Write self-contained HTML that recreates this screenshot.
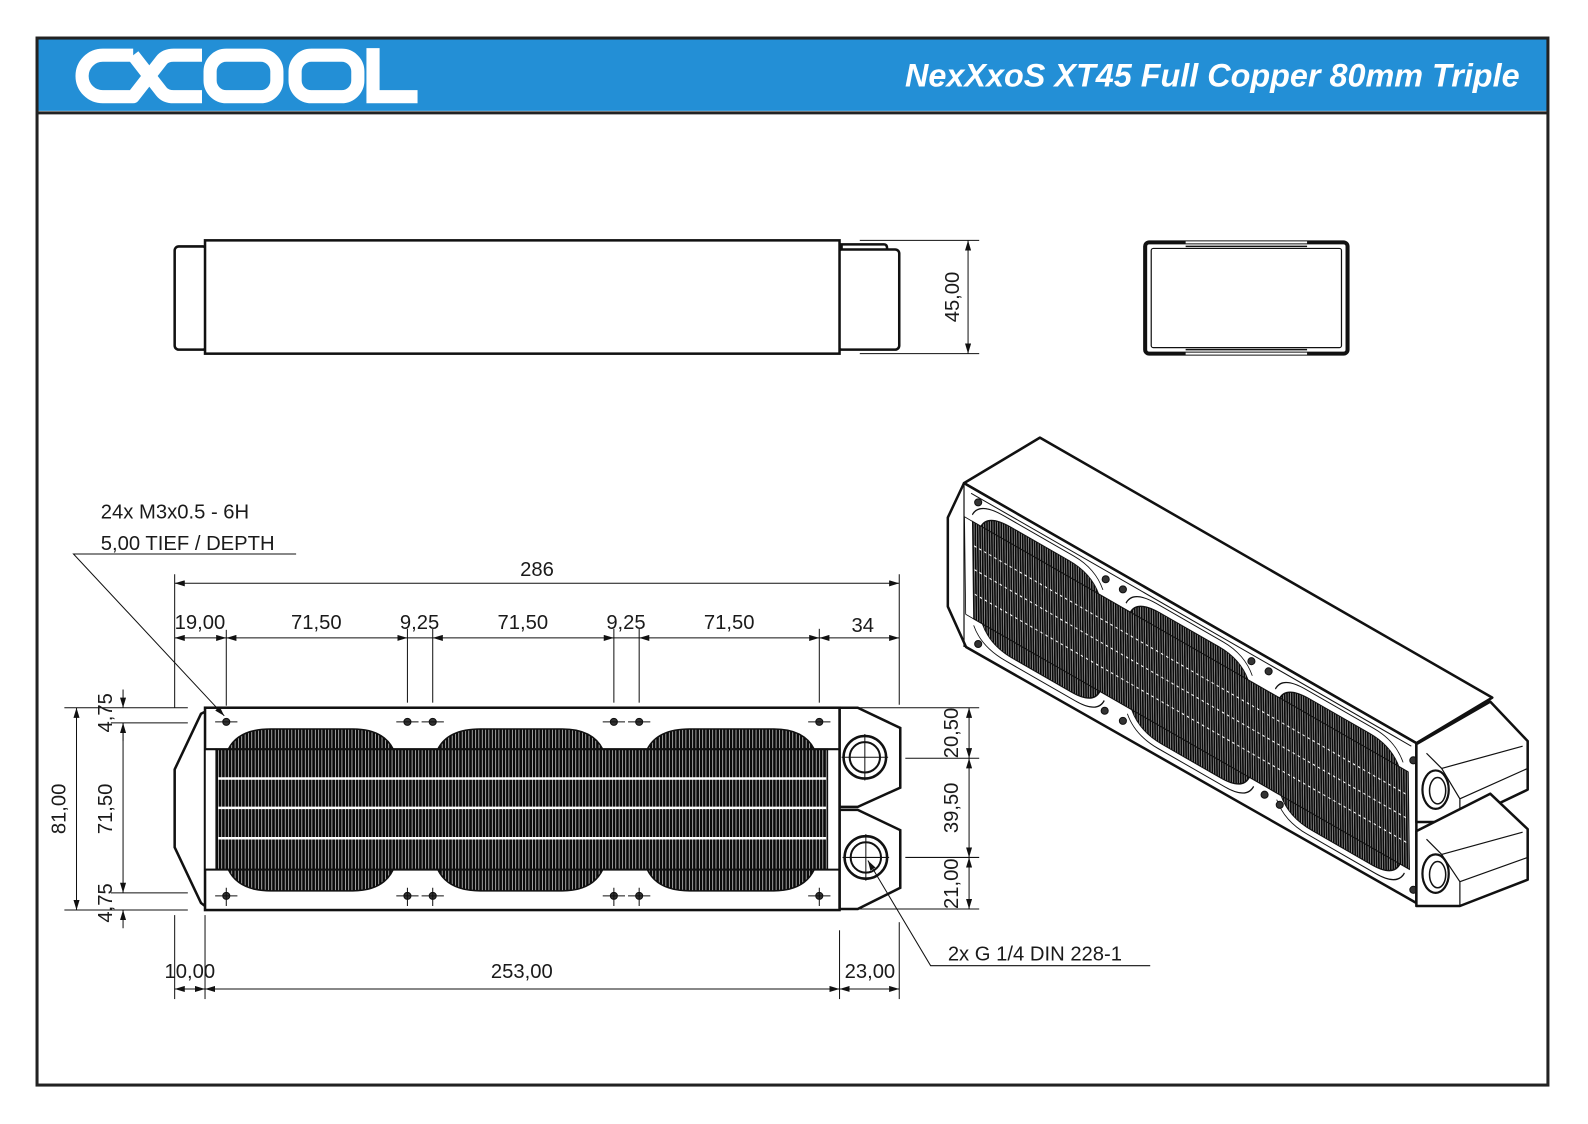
<!DOCTYPE html>
<html><head><meta charset="utf-8"><style>
html,body{margin:0;padding:0;background:#fff;}
svg{display:block;}
text{font-family:"Liberation Sans",sans-serif;fill:#1a1a1a;}
</style></head><body>
<svg width="1588" height="1124" viewBox="0.4 0.4 1569.2 1111.1" preserveAspectRatio="none" xmlns="http://www.w3.org/2000/svg">
<defs>
<pattern id="fin" width="3.3" height="10" patternUnits="userSpaceOnUse">
<rect width="3.3" height="10" fill="#0a0a0a"/><rect x="1.4" width="0.6" height="10" fill="#fff"/>
</pattern>
<marker id="ar" viewBox="0 0 10 6" refX="10" refY="3" markerWidth="10" markerHeight="6" orient="auto-start-reverse" markerUnits="userSpaceOnUse">
<path d="M0,0 L10,3 L0,6 Z" fill="#111"/></marker>
<g id="fins">
<path d="M226 741 Q236 721 268 721 H349 Q379 721 389 741 Z"/>
<path d="M433 741 Q443 721 475 721 H556 Q586 721 596 741 Z"/>
<path d="M640 741 Q650 721 682 721 H765 Q795 721 805 741 Z"/>
<path d="M226 860 Q236 881 268 881 H349 Q379 881 389 860 Z"/>
<path d="M433 860 Q443 881 475 881 H556 Q586 881 596 860 Z"/>
<path d="M640 860 Q650 881 682 881 H765 Q795 881 805 860 Z"/>
<rect x="214" y="741" width="604" height="119"/>
</g>
</defs>
<rect x="0" y="0" width="1600" height="1130" fill="#fff"/>
<rect x="37" y="38" width="1493" height="72" fill="#238fd6"/>
<rect x="37" y="38" width="1493" height="1035" fill="none" stroke="#222" stroke-width="3"/>
<line x1="37" y1="112" x2="1530" y2="112" stroke="#222" stroke-width="3"/>
<g fill="none" stroke="#fff" stroke-width="13" stroke-linejoin="round">
<path d="M132 55 H102 A20.5 20.5 0 0 0 102 96 H132 L160 60 Q164 55 172 55 H200"/>
<path d="M132 55 L160 91 Q164 96 172 96 H200"/>
<rect x="208" y="55" width="66" height="41" rx="16"/>
<rect x="292" y="55" width="62" height="41" rx="16"/>
<path d="M369 48 V96 H413" stroke-linejoin="miter"/>
</g>
<text x="1502" y="86" text-anchor="end" font-size="32" font-weight="bold" font-style="italic" style="fill:#fff">NexXxoS XT45 Full Copper 80mm Triple</text>

<g fill="#fff" stroke="#111" stroke-width="2.5">
<rect x="173" y="244" width="32" height="102" rx="4"/>
<path d="M832 247 V242 H874 Q877 242 877 246"/>
<rect x="828" y="247" width="61" height="99" rx="4"/>
<rect x="203" y="238" width="627" height="112"/>
</g>
<g stroke="#111" stroke-width="1">
<line x1="850" y1="238" x2="968" y2="238"/><line x1="850" y1="350" x2="968" y2="350"/>
<line x1="957" y1="238" x2="957" y2="350" marker-start="url(#ar)" marker-end="url(#ar)"/>
</g>
<text transform="translate(948,294) rotate(-90)" text-anchor="middle" font-size="20">45,00</text>

<rect x="1132" y="240" width="200" height="110" rx="4" fill="#fff" stroke="#111" stroke-width="4"/>
<rect x="1138" y="246" width="188" height="98" rx="2" fill="none" stroke="#111" stroke-width="1.2"/>
<line x1="1172" y1="240" x2="1292" y2="240" stroke="#fff" stroke-width="2"/>
<line x1="1172" y1="350" x2="1292" y2="350" stroke="#fff" stroke-width="2"/>
<line x1="1172" y1="244" x2="1292" y2="244" stroke="#111" stroke-width="1.5"/>
<line x1="1172" y1="346" x2="1292" y2="346" stroke="#111" stroke-width="1.5"/>

<path d="M203 704 L199 706 L173 761 L173 838 L199 893 L203 896" fill="#fff" stroke="#111" stroke-width="2.5"/>
<path d="M830 700 H848 L890 720 V779 L848 798 H830 Z" fill="#fff" stroke="#111" stroke-width="2.5"/>
<path d="M830 801 H848 L890 821 V878 L848 899 H830 Z" fill="#fff" stroke="#111" stroke-width="2.5"/>
<rect x="203" y="700" width="627" height="200" fill="#fff" stroke="#111" stroke-width="2.5"/>
<use href="#fins" fill="url(#fin)" stroke="#111" stroke-width="1.5"/>
<rect x="203" y="741" width="11" height="119" fill="#fff" stroke="#111" stroke-width="1.5"/>
<line x1="203" y1="741" x2="830" y2="741" stroke="#111" stroke-width="2"/>
<line x1="203" y1="860" x2="830" y2="860" stroke="#111" stroke-width="2"/>
<g stroke="#fff" stroke-width="2.5">
<line x1="216" y1="770" x2="817" y2="770"/><line x1="216" y1="799" x2="817" y2="799"/><line x1="216" y1="829" x2="817" y2="829"/>
</g>
<g stroke="#111" stroke-width="1" fill="#333">
<circle cx="224" cy="714" r="3.5"/><circle cx="403" cy="714" r="3.5"/><circle cx="428" cy="714" r="3.5"/><circle cx="607" cy="714" r="3.5"/><circle cx="632" cy="714" r="3.5"/><circle cx="810" cy="714" r="3.5"/>
<circle cx="224" cy="886" r="3.5"/><circle cx="403" cy="886" r="3.5"/><circle cx="428" cy="886" r="3.5"/><circle cx="607" cy="886" r="3.5"/><circle cx="632" cy="886" r="3.5"/><circle cx="810" cy="886" r="3.5"/>
<path d="M213 714 H235 M392 714 H414 M417 714 H439 M596 714 H618 M621 714 H643 M799 714 H821 M213 886 H235 M392 886 H414 M417 886 H439 M596 886 H618 M621 886 H643 M799 886 H821 M224 878 V896 M403 878 V896 M428 878 V896 M607 878 V896 M632 878 V896 M810 878 V896" fill="none"/>
</g>
<g fill="none" stroke="#111">
<circle cx="855" cy="749" r="21" stroke-width="2.5"/><circle cx="855" cy="749" r="15" stroke-width="2"/>
<circle cx="856" cy="848" r="21" stroke-width="2.5"/><circle cx="856" cy="848" r="15" stroke-width="2"/>
<path d="M832 749 H878 M855 726 V772 M833 848 H879 M856 825 V871" stroke-width="1"/>
</g>

<g stroke="#111" stroke-width="1" fill="none">
<line x1="173" y1="568" x2="173" y2="700"/><line x1="889" y1="568" x2="889" y2="697"/>
<line x1="173" y1="577" x2="889" y2="577" marker-start="url(#ar)" marker-end="url(#ar)"/>
<line x1="224" y1="623" x2="224" y2="698"/>
<line x1="403" y1="622" x2="403" y2="695"/><line x1="428" y1="622" x2="428" y2="695"/>
<line x1="607" y1="622" x2="607" y2="695"/><line x1="632" y1="622" x2="632" y2="695"/>
<line x1="810" y1="622" x2="810" y2="695"/>
<line x1="173" y1="631" x2="224" y2="631" marker-start="url(#ar)" marker-end="url(#ar)"/>
<line x1="224" y1="631" x2="403" y2="631" marker-start="url(#ar)" marker-end="url(#ar)"/>
<line x1="403" y1="631" x2="428" y2="631"/>
<line x1="428" y1="631" x2="607" y2="631" marker-start="url(#ar)" marker-end="url(#ar)"/>
<line x1="607" y1="631" x2="632" y2="631"/>
<line x1="632" y1="631" x2="810" y2="631" marker-start="url(#ar)" marker-end="url(#ar)"/>
<line x1="810" y1="631" x2="889" y2="631" marker-start="url(#ar)" marker-end="url(#ar)"/>
<line x1="173" y1="905" x2="173" y2="988"/><line x1="203" y1="905" x2="203" y2="988"/>
<line x1="830" y1="920" x2="830" y2="988"/><line x1="889" y1="912" x2="889" y2="988"/>
<line x1="173" y1="978" x2="203" y2="978" marker-start="url(#ar)" marker-end="url(#ar)"/>
<line x1="203" y1="978" x2="830" y2="978" marker-start="url(#ar)" marker-end="url(#ar)"/>
<line x1="830" y1="978" x2="889" y2="978" marker-start="url(#ar)" marker-end="url(#ar)"/>
<line x1="64" y1="700" x2="186" y2="700"/><line x1="110" y1="715" x2="186" y2="715"/>
<line x1="110" y1="883" x2="186" y2="883"/><line x1="64" y1="900" x2="186" y2="900"/>
<line x1="76" y1="700" x2="76" y2="900" marker-start="url(#ar)" marker-end="url(#ar)"/>
<line x1="122" y1="715" x2="122" y2="883" marker-start="url(#ar)" marker-end="url(#ar)"/>
<line x1="122" y1="682" x2="122" y2="700" marker-end="url(#ar)"/>
<line x1="122" y1="733" x2="122" y2="715"/>
<line x1="122" y1="918" x2="122" y2="900" marker-end="url(#ar)"/>
<line x1="848" y1="700" x2="968" y2="700"/><line x1="895" y1="750" x2="968" y2="750"/>
<line x1="895" y1="848" x2="968" y2="848"/><line x1="848" y1="899" x2="968" y2="899"/>
<line x1="958" y1="700" x2="958" y2="750" marker-start="url(#ar)" marker-end="url(#ar)"/>
<line x1="958" y1="750" x2="958" y2="848" marker-start="url(#ar)" marker-end="url(#ar)"/>
<line x1="958" y1="848" x2="958" y2="899" marker-start="url(#ar)" marker-end="url(#ar)"/>
<path d="M293 548 H73 L222 708" marker-end="url(#ar)"/>
<path d="M1137 955 H920 L858 851" marker-end="url(#ar)"/>
</g>
<g font-size="20">
<text x="100" y="513">24x M3x0.5 - 6H</text>
<text x="100" y="544">5,00 TIEF / DEPTH</text>
<text x="531" y="570" text-anchor="middle">286</text>
<text x="198" y="622" text-anchor="middle">19,00</text>
<text x="313" y="622" text-anchor="middle">71,50</text>
<text x="415" y="622" text-anchor="middle">9,25</text>
<text x="517" y="622" text-anchor="middle">71,50</text>
<text x="619" y="622" text-anchor="middle">9,25</text>
<text x="721" y="622" text-anchor="middle">71,50</text>
<text x="853" y="625" text-anchor="middle">34</text>
<text x="188" y="967" text-anchor="middle">10,00</text>
<text x="516" y="967" text-anchor="middle">253,00</text>
<text x="860" y="967" text-anchor="middle">23,00</text>
<text x="937" y="950">2x G 1/4 DIN 228-1</text>
<text transform="translate(65,800) rotate(-90)" text-anchor="middle">81,00</text>
<text transform="translate(111,800) rotate(-90)" text-anchor="middle">71,50</text>
<text transform="translate(111,705) rotate(-90)" text-anchor="middle">4,75</text>
<text transform="translate(111,893) rotate(-90)" text-anchor="middle">4,75</text>
<text transform="translate(947,725) rotate(-90)" text-anchor="middle">20,50</text>
<text transform="translate(947,799) rotate(-90)" text-anchor="middle">39,50</text>
<text transform="translate(947,874) rotate(-90)" text-anchor="middle">21,00</text>
</g>

<g stroke="#111" stroke-linejoin="round">
<path d="M953 478 L1028 433 L1475 690 L1400 735 Z" fill="#fff" stroke-width="2.5"/>
<path d="M953 478 L1400 735 L1400 893 L955 640 L937 600 L937 512 Z" fill="#fff" stroke-width="2.5"/>
<path d="M960 488 L1395 738" fill="none" stroke-width="1"/>
<path d="M953 478 L953 640" fill="none" stroke-width="1.2"/>
<g transform="matrix(0.713,0.41,0.01,0.81,801.3,-172.2)">
<path d="M214 733 Q224 712 258 712 H355 Q385 712 395 733 M427 733 Q437 712 469 712 H562 Q592 712 602 733 M634 733 Q644 712 676 712 H771 Q801 712 811 733" fill="none" stroke-width="1.4"/>
<path d="M214 868 Q224 889 258 889 H355 Q385 889 395 868 M427 868 Q437 889 469 889 H562 Q592 889 602 868 M634 868 Q644 889 676 889 H771 Q801 889 811 868" fill="none" stroke-width="1.4"/>
<use href="#fins" fill="url(#fin)" stroke="#111" stroke-width="1.5"/>
<g stroke="#fff" stroke-width="1.6" stroke-dasharray="3 4">
<line x1="216" y1="770" x2="817" y2="770"/><line x1="216" y1="799" x2="817" y2="799"/><line x1="216" y1="829" x2="817" y2="829"/>
</g>
<rect x="203" y="741" width="11" height="119" fill="#fff" stroke="#111" stroke-width="1.2"/>
</g>
<g fill="#333" stroke-width="1">
<circle cx="967" cy="497" r="3.5"/><circle cx="967" cy="637" r="3.5"/><circle cx="1093" cy="573" r="3.5"/><circle cx="1110" cy="583" r="3.5"/>
<circle cx="1237" cy="654" r="3.5"/><circle cx="1254" cy="664" r="3.5"/><circle cx="1092" cy="703" r="3.5"/><circle cx="1110" cy="713" r="3.5"/>
<circle cx="1250" cy="786" r="3.5"/><circle cx="1265" cy="796" r="3.5"/><circle cx="1397" cy="752" r="3.5"/><circle cx="1397" cy="880" r="3.5"/>
</g>
<path d="M1400 736 L1473 694 L1510 733 L1510 781 L1443 813 L1400 813 Z" fill="#fff" stroke-width="2.5"/>
<path d="M1410 745 L1425 760 L1443 790 L1443 813 M1425 760 L1505 738 M1443 790 L1510 760" fill="none" stroke-width="1.2"/>
<path d="M1400 822 L1473 785 L1510 820 L1510 870 L1443 896 L1400 896 Z" fill="#fff" stroke-width="2.5"/>
<path d="M1410 830 L1425 845 L1443 872 L1443 896 M1425 845 L1505 823 M1443 872 L1510 848" fill="none" stroke-width="1.2"/>
<ellipse cx="1419" cy="781" rx="13" ry="19" fill="#fff" stroke-width="2.2"/>
<ellipse cx="1421" cy="782" rx="8" ry="13" fill="none" stroke-width="1.5"/>
<ellipse cx="1419" cy="864" rx="13" ry="19" fill="#fff" stroke-width="2.2"/>
<ellipse cx="1421" cy="865" rx="8" ry="13" fill="none" stroke-width="1.5"/>
</g>
</svg>
</body></html>
